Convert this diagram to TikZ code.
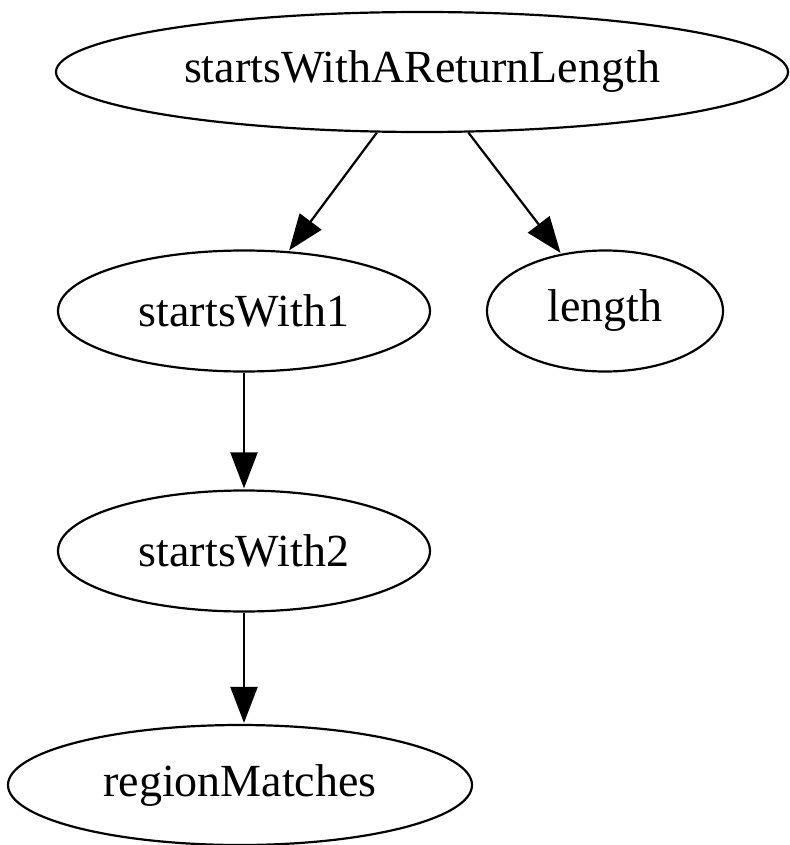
\documentclass[tikz,border=0pt]{standalone}
\usepackage{fontspec}
\setmainfont{Liberation Serif}
\usetikzlibrary{shapes.geometric,arrows.meta}
\begin{document}
\begin{tikzpicture}[x=1pt,y=-1pt,
  gvnode/.style={draw, ellipse, line width=2.2pt, inner sep=0pt,
    font=\fontsize{46}{50}\selectfont},
  gvedge/.style={draw, line width=2.2pt, -{Triangle[length=36pt,width=27pt]}, shorten >=1pt}]
\useasboundingbox (0,0) rectangle (789,845);
\node[gvnode, minimum width=732pt, minimum height=120pt] (top) at (422,72) {startsWithAReturnLength};
\node[gvnode, minimum width=372pt, minimum height=121pt] (s1) at (244,311) {startsWith1};
\node[gvnode, minimum width=236pt, minimum height=121pt] (len) at (605,311) {length};
\node[gvnode, minimum width=372pt, minimum height=121pt] (s2) at (244,551) {startsWith2};
\node[gvnode, minimum width=464pt, minimum height=120pt] (rm) at (240,785) {regionMatches};
\draw[gvedge] (top) -- (s1);
\draw[gvedge] (top) -- (len);
\draw[gvedge] (s1) -- (s2);
\draw[gvedge] (s2.south) -- (s2.south |- rm.north);
\end{tikzpicture}
\end{document}
